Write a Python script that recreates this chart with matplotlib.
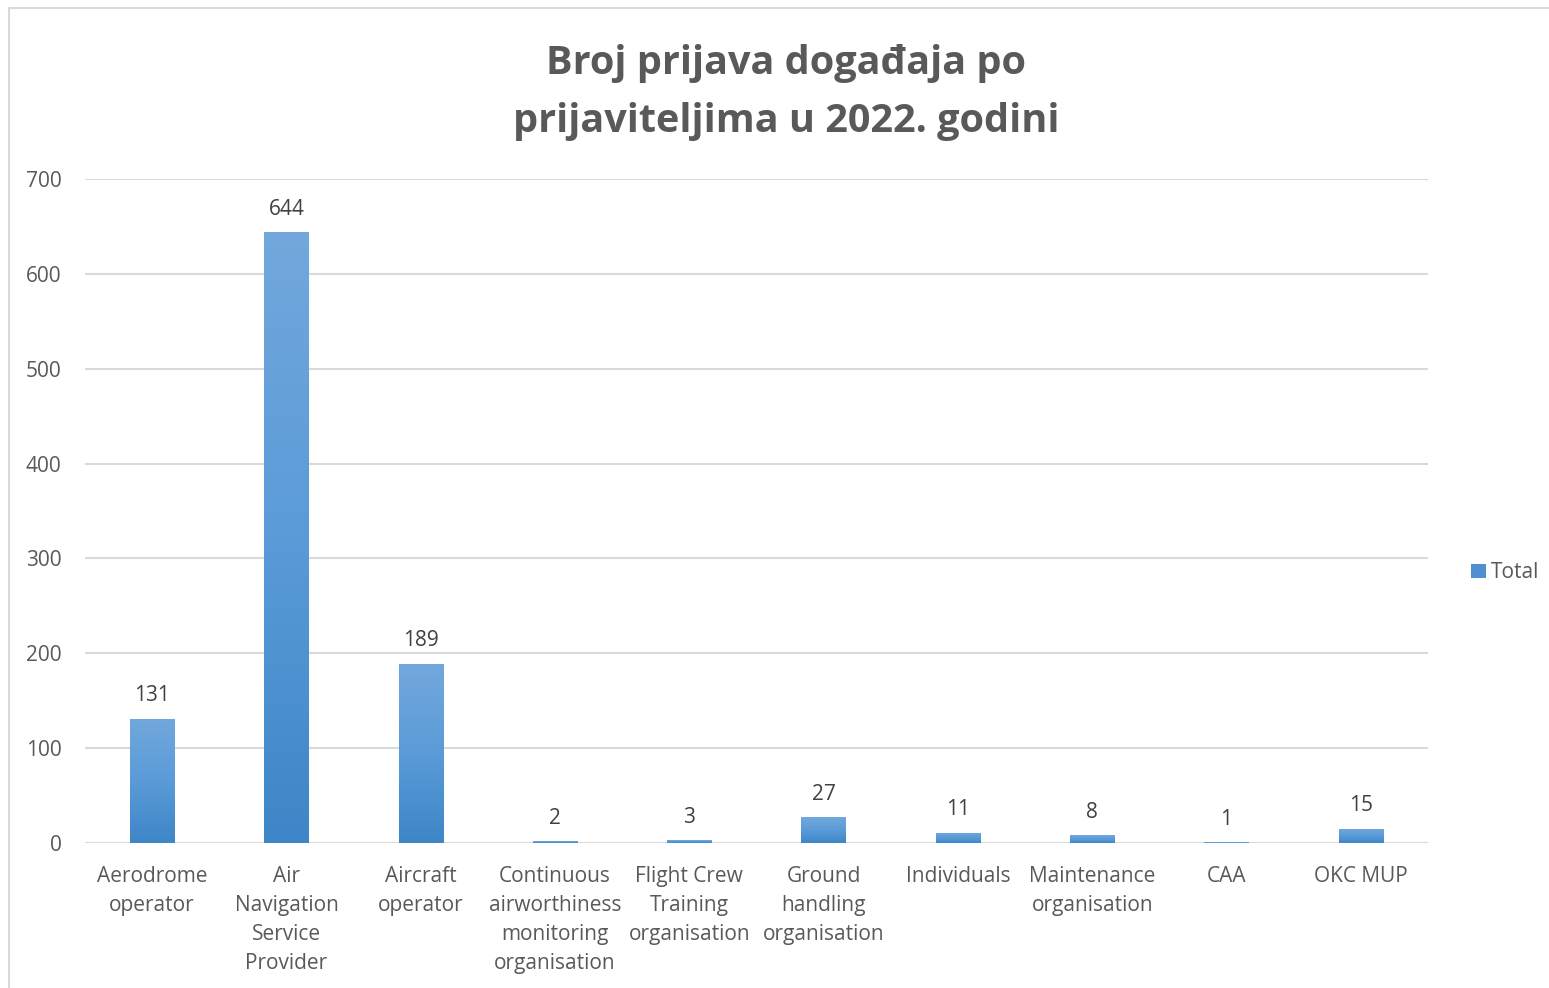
import matplotlib
matplotlib.use("Agg")
import matplotlib.pyplot as plt
import numpy as np
from matplotlib.colors import LinearSegmentedColormap
from matplotlib.patches import Rectangle, Patch

categories = ["Aerodrome\noperator", "Air\nNavigation\nService\nProvider", "Aircraft\noperator",
              "Continuous\nairworthiness\nmonitoring\norganisation", "Flight Crew\nTraining\norganisation",
              "Ground\nhandling\norganisation", "Individuals", "Maintenance\norganisation", "CAA", "OKC MUP"]
values = [131, 644, 189, 2, 3, 27, 11, 8, 1, 15]
yticks = [0, 100, 200, 300, 400, 500, 600, 700]
title = "Broj prijava događaja po\nprijaviteljima u 2022. godini"
series_name = "Total"

plt.rcParams['font.family'] = ['Open Sans', 'DejaVu Sans']
txt = '#595959'

fig = plt.figure(figsize=(15.49, 9.88), dpi=100)
ax = fig.add_axes([85/1549, 1-843/988, (1428-85)/1549, (843-179)/988])

x = np.arange(len(values))
bars = ax.bar(x, values, width=0.33, color='#5b9bd5', zorder=3)

cmap = LinearSegmentedColormap.from_list('g', ['#3e86c7', '#5a9bd8', '#72a8dc'])
grad = np.linspace(0, 1, 256).reshape(-1, 1)
for b in bars:
    x0, w, h = b.get_x(), b.get_width(), b.get_height()
    b.set_facecolor('none')
    im = ax.imshow(grad, cmap=cmap, origin='lower', aspect='auto',
                   extent=[x0, x0 + w, 0, h], zorder=3)
    im.set_clip_path(b)
    ax.text(x0 + w/2, h + 13, str(int(h)), ha='center', va='bottom',
            fontsize=15, color='#404040')

ax.set_xlim(-0.5, len(values) - 0.5)
ax.set_ylim(0, 700)
ax.set_yticks(yticks)
ax.set_yticklabels([str(t) for t in yticks], fontsize=15, color=txt)
ax.set_xticks(x)
ax.set_xticklabels(categories, fontsize=15, color=txt, linespacing=1.5)
ax.tick_params(axis='both', length=0)
ax.tick_params(axis='y', pad=17)
ax.tick_params(axis='x', pad=16.5)
ax.grid(axis='y', color='#d9d9d9', linewidth=1.5, zorder=0)
for s in ax.spines.values():
    s.set_visible(False)

fig.text(786/1549, 1-92.5/988, title, ha='center', va='center', fontsize=28.5,
         fontweight='bold', color=txt, linespacing=1.65)

h = Patch(facecolor='#5090d0', edgecolor='none')
fig.legend([h], [series_name], loc='center left', bbox_to_anchor=(1461/1549, 1-573/988),
           frameon=False, fontsize=15, labelcolor=txt, handlelength=0.7, handleheight=0.7,
           handletextpad=0.25, borderpad=0)

border = Rectangle((8.5/1549, -0.1), 1.2, 1 - 8.5/988 + 0.1, transform=fig.transFigure,
                   fill=False, edgecolor='#d9d9d9', linewidth=1.5)
fig.patches.append(border)

fig.savefig('out.png', dpi=100)
